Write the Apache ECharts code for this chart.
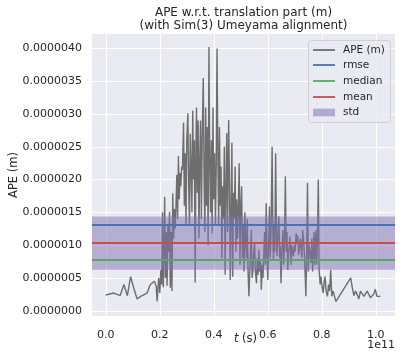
<!DOCTYPE html>
<html><head><meta charset="utf-8">
<script src="https://cdn.jsdelivr.net/npm/echarts@6/dist/echarts.min.js"></script>
<style>html,body{margin:0;padding:0;background:#fff}#c{width:404px;height:359px}</style>
</head><body><div id="c"></div>
<script>
// time in units of 1e11 s
const times = [
0.000,0.030,0.053,0.067,0.080,0.092,0.102,0.116,0.129,0.153,0.165,0.180,0.187,0.190,0.196,
0.200,0.204,0.207,0.210,0.213,0.216,0.218,0.221,0.224,0.227,0.230,0.233,0.236,0.239,0.242,0.245,0.248,0.251,0.254,0.257,0.260,0.263,0.266,0.269,0.272,0.275,0.278,0.281,0.284,0.288,0.291,0.294,0.297,0.300,0.304,0.307,0.310,0.313,0.316,0.319,0.322,0.325,0.328,0.331,0.334,0.336,0.339,0.342,0.345,0.348,0.351,0.354,0.357,0.361,0.364,0.367,0.370,0.373,0.376,0.379,0.382,0.385,0.388,0.391,0.394,0.397,0.400,0.403,0.406,0.409,0.412,0.415,0.418,0.421,0.424,0.427,0.430,0.433,0.436,0.439,0.442,0.445,0.448,0.451,0.455,0.458,0.461,0.464,0.467,0.470,0.473,0.476,0.479,0.482,0.485,0.488,0.491,0.494,0.497,0.500,0.503,0.506,0.509,0.512,0.515,0.518,0.521,0.524,0.527,0.530,
0.536,0.539,0.542,0.545,0.548,0.551,0.554,0.558,0.561,0.564,0.567,0.570,0.573,0.576,0.579,0.582,0.585,0.588,0.591,0.594,0.597,0.600,0.603,0.606,0.609,0.612,0.616,0.619,0.621,0.624,0.626,0.629,0.632,0.634,0.637,0.641,0.644,0.646,0.649,0.652,0.656,0.659,0.662,0.665,0.668,0.671,0.674,0.677,0.680,0.682,0.686,0.689,0.692,0.695,0.698,0.701,0.705,0.708,0.711,0.714,0.717,0.720,0.723,0.726,0.729,0.732,0.735,0.738,0.741,0.744,0.747,0.750,0.753,0.756,0.760,0.763,0.766,0.768,0.771,0.774,0.778,0.781,0.784,0.787,0.790,0.794,0.797,0.800,0.805,0.809,0.812,0.816,0.821,0.825,0.829,0.833,0.837,0.842,0.846,0.852,
0.907,0.913,0.919,0.925,0.931,0.937,0.943,0.950,0.956,0.962,0.968,0.974,0.980,0.986,0.992,0.998,1.004,1.011,1.017
];
// APE in micrometres
const ape = [
0.24,0.27,0.23,0.40,0.23,0.52,0.37,0.18,0.22,0.27,0.40,0.45,0.37,0.14,0.50,
0.27,0.62,0.40,1.50,0.36,0.95,1.74,0.50,1.20,0.38,1.30,0.90,1.51,0.35,1.20,0.30,1.79,1.10,1.55,1.25,1.60,2.07,1.40,2.36,1.70,2.10,1.90,2.20,2.15,2.87,1.60,2.40,1.30,2.60,3.01,1.90,1.29,2.70,2.20,1.50,3.05,2.00,2.60,0.43,2.50,3.10,1.80,2.90,1.10,2.30,2.90,1.40,2.60,3.55,2.00,1.20,3.10,1.60,2.80,1.00,4.02,2.30,1.50,2.60,1.18,3.10,1.70,2.40,1.30,2.20,4.00,2.40,1.30,2.80,1.60,2.20,0.80,1.90,1.40,2.50,0.55,1.90,2.71,1.20,2.91,2.00,0.47,1.50,2.56,0.52,1.80,1.40,2.20,0.90,1.70,1.10,1.60,2.25,0.70,1.60,1.90,0.80,1.30,0.60,1.50,1.10,0.80,1.40,0.60,0.22,
0.90,1.23,0.50,0.62,0.90,1.03,0.60,0.42,0.80,0.55,0.93,0.60,0.75,0.32,0.70,0.50,0.83,1.20,0.70,1.64,0.90,0.47,1.00,1.59,0.80,1.20,2.50,1.10,0.78,1.30,0.90,2.40,1.20,0.83,1.10,1.44,0.80,1.00,0.42,0.90,1.23,0.70,1.10,2.05,0.90,1.20,0.62,0.90,1.00,1.13,0.70,1.00,0.90,0.83,1.00,0.90,1.18,1.05,1.15,0.85,0.93,1.10,1.00,0.80,1.23,1.10,0.90,0.60,0.22,0.90,1.95,0.60,1.00,0.90,0.73,1.10,0.60,0.83,1.20,0.70,1.23,0.70,1.10,2.00,0.62,0.40,0.52,0.40,0.27,0.45,0.52,0.30,0.22,0.40,0.30,0.62,0.22,0.30,0.27,0.14,
0.50,0.35,0.23,0.30,0.25,0.18,0.30,0.28,0.22,0.20,0.30,0.28,0.20,0.20,0.25,0.33,0.22,0.20,0.22
];
const yTicks = [0,0.5,1.0,1.5,2.0,2.5,3.0,3.5,4.0];
const xTicks = [0,0.2,0.4,0.6,0.8,1.0];
const rmse = 1.306, median = 0.777, mean = 1.041;
const stdLow = 0.625, stdHigh = 1.437;

const TXT = '#262626', FONT = 'DejaVu Sans';
const chart = echarts.init(document.getElementById('c'), null, {renderer: 'canvas'});
const pts = times.map((t, i) => [t, ape[i]]);

const legendRows = [
  {name: 'APE (m)', color: '#6e6e6e', type: 'line'},
  {name: 'rmse', color: '#4c72b0', type: 'line'},
  {name: 'median', color: '#55a868', type: 'line'},
  {name: 'mean', color: '#c44e52', type: 'line'},
  {name: 'std', color: 'rgba(129,114,178,0.55)', type: 'patch'}
];
const legendY = [50, 65, 81, 97, 112.5];
const g = [
  {type: 'text', style: {text: 'APE w.r.t. translation part (m)', x: 243.5, y: 13, align: 'center', verticalAlign: 'middle', fontSize: 12, fontFamily: FONT, fill: TXT}},
  {type: 'text', style: {text: '(with Sim(3) Umeyama alignment)', x: 243.5, y: 25.5, align: 'center', verticalAlign: 'middle', fontSize: 12, fontFamily: FONT, fill: TXT}},
  {type: 'text', rotation: Math.PI / 2, x: 14, y: 175, style: {text: 'APE (m)', x: 0, y: 0, align: 'center', verticalAlign: 'middle', fontSize: 11.5, fontFamily: FONT, fill: TXT}},
  {type: 'text', style: {text: 't', x: 238.5, y: 339, align: 'right', verticalAlign: 'middle', fontSize: 11.5, fontStyle: 'italic', fontFamily: FONT, fill: TXT}},
  {type: 'text', style: {text: '(s)', x: 242, y: 339, align: 'left', verticalAlign: 'middle', fontSize: 11.5, fontFamily: FONT, fill: TXT}},
  {type: 'text', style: {text: '1e11', x: 395, y: 345.5, align: 'right', verticalAlign: 'middle', fontSize: 11, fontFamily: FONT, fill: TXT}},
  {type: 'rect', shape: {x: 308.5, y: 40.5, width: 82, height: 82, r: 3}, style: {fill: 'rgba(234,234,242,0.8)', stroke: '#cfcfd6', lineWidth: 1}, z: 10}
];
legendRows.forEach((r, i) => {
  const y = legendY[i];
  if (r.type === 'line') {
    g.push({type: 'line', shape: {x1: 313, y1: y, x2: 335, y2: y}, style: {stroke: r.color, lineWidth: 1.8}, z: 11});
  } else {
    g.push({type: 'rect', shape: {x: 313, y: y - 3.8, width: 22, height: 7.6}, style: {fill: r.color}, z: 11});
  }
  g.push({type: 'text', style: {text: r.name, x: 343, y: y, verticalAlign: 'middle', fontSize: 10.5, fontFamily: FONT, fill: TXT}, z: 11});
});

chart.setOption({
  animation: false,
  grid: {left: 92, right: 9, top: 34, bottom: 43, show: true, backgroundColor: '#eaeaf2', borderWidth: 0},
  xAxis: {
    type: 'value', min: -0.051, max: 1.071,
    axisLine: {show: false}, axisTick: {show: false}, splitLine: {show: false},
    axisLabel: {customValues: xTicks, formatter: v => v.toFixed(1), color: TXT, fontSize: 11, fontFamily: FONT, margin: 14}
  },
  yAxis: {
    type: 'value', min: -0.08, max: 4.22,
    axisLine: {show: false}, axisTick: {show: false}, splitLine: {show: false},
    axisLabel: {customValues: yTicks, formatter: v => (v * 1e-6).toFixed(7), color: TXT, fontSize: 11, fontFamily: FONT, margin: 10}
  },
  series: [
    {type: 'line', data: [], silent: true, z: 0,
     markLine: {silent: true, z: 0, symbol: 'none', label: {show: false}, lineStyle: {color: '#ffffff', width: 1, type: 'solid'},
       data: yTicks.map(v => ({yAxis: v})).concat(xTicks.map(v => ({xAxis: v})))}},
    {name: 'APE (m)', type: 'line', data: pts, showSymbol: false, z: 2,
     lineStyle: {color: '#6e6e6e', width: 1.4}, itemStyle: {color: '#6e6e6e'}},
    {type: 'line', data: [], silent: true, z: 3,
     markArea: {silent: true, z: 3, itemStyle: {color: 'rgba(129,114,178,0.5)'}, data: [[{yAxis: stdLow}, {yAxis: stdHigh}]]},
     markLine: {silent: true, z: 4, symbol: 'none', label: {show: false},
       data: [
         {yAxis: rmse, lineStyle: {color: '#4c72b0', width: 1.8, type: 'solid'}},
         {yAxis: median, lineStyle: {color: '#55a868', width: 1.8, type: 'solid'}},
         {yAxis: mean, lineStyle: {color: '#c44e52', width: 1.8, type: 'solid'}}
       ]}}
  ],
  graphic: g
});
</script></body></html>
